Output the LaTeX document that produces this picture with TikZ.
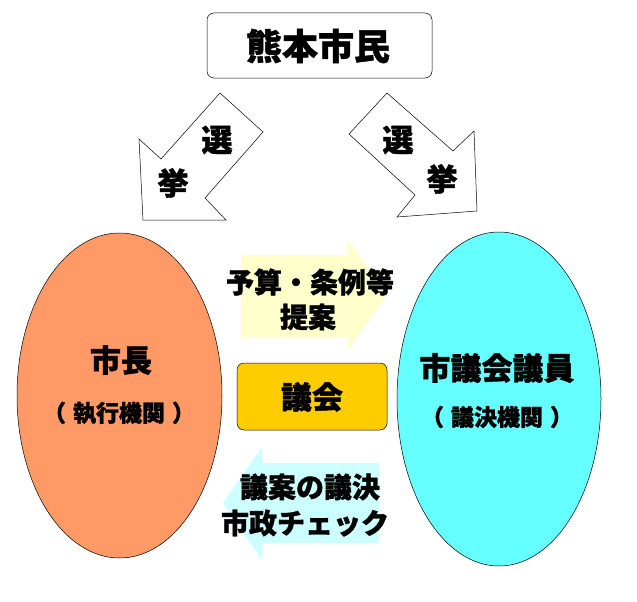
\documentclass[tikz,border=0pt]{standalone}
\usepackage{fontspec}
\newfontfamily\jp{Noto Sans CJK JP}[BoldFeatures={FakeBold=1.2}]
\definecolor{mayorc}{HTML}{FF9966}
\definecolor{councilc}{HTML}{66FFFF}
\definecolor{gikaic}{HTML}{FFCC00}
\definecolor{yarrow}{HTML}{FFFFCC}
\definecolor{barrow}{HTML}{CCFFFF}
\usetikzlibrary{shapes.geometric}
\tikzset{
  selarrow/.style={draw=black, fill=white, line width=0.5pt, line join=miter},
  lbl/.style={font=\jp\bfseries\fontsize{28}{34}\selectfont, inner sep=0pt, text=black},
  ovallbl/.style={font=\jp\bfseries\fontsize{31}{36}\selectfont, inner sep=0pt, text=black},
  biglbl/.style={font=\jp\bfseries\fontsize{36}{40}\selectfont, inner sep=0pt, text=black},
  sellbl/.style={font=\jp\bfseries\fontsize{31}{36}\selectfont, inner sep=0pt, text=black},
  sublbl/.style={font=\jp\bfseries\fontsize{23}{26}\selectfont, inner sep=0pt, text=black},
  oval/.style={ellipse, draw=black, line width=0.5pt, inner sep=0pt},
  roundbox/.style={rectangle, rounded corners=7pt, draw=black, line width=0.5pt, inner sep=0pt}
}
\begin{document}
\begin{tikzpicture}[x=1pt, y=-1pt]
\useasboundingbox (0,0) rectangle (637,602);
\fill[white] (0,0) rectangle (637,602);

% top box
\node[roundbox, fill=white, minimum width=225pt, minimum height=65pt] (citizens) at (319.5,45.5) {};
\node[biglbl] (citizenstxt) at (318,46) {熊本市民};

% selection arrows
\draw[selarrow] (220,93) -- (263,132) -- (205,198) -- (226,220) -- (143,220) -- (139,139) -- (161,159) -- cycle;
\draw[selarrow] (349,134) -- (387,93) -- (453,151) -- (474,131) -- (477,211) -- (397,217) -- (415,195) -- cycle;
\node[sellbl] (lsen) at (217,140) {選};
\node[sellbl] (lkyo) at (173,183) {挙};
\node[sellbl] (rsen) at (398,140) {選};
\node[sellbl] (rkyo) at (442,179) {挙};

% ellipses
\node[oval, fill=mayorc, minimum width=205pt, minimum height=325pt] (mayor) at (119.5,395.5) {};
\node[oval, fill=councilc, minimum width=204pt, minimum height=334pt] (council) at (499,399) {};
\node[ovallbl] (mayortxt) at (121,360) {市長};
\node[sublbl] (mayorsub) at (119,413) {（\hspace{7pt}執行機関\hspace{7pt}）};
\node[ovallbl] (counciltxt) at (497,368) {市議会議員};
\node[sublbl] (councilsub) at (497,417) {（\hspace{7pt}議決機関\hspace{7pt}）};

% block arrows
\fill[yarrow] (241,255) -- (348,255) -- (348,240) -- (387,295) -- (348,350) -- (348,337) -- (241,337) -- cycle;
\fill[barrow] (223,503) -- (262,447) -- (262,463) -- (379,463) -- (379,543) -- (262,543) -- (262,560) -- cycle;
\node[lbl] (prop1) at (310,282) {予算・条例等};
\node[lbl] (prop2) at (308,317) {提案};
\node[lbl] (chk1) at (310,487) {議案の議決};
\node[lbl] (chk2) at (305,523) {市政チェック};

% gikai box
\node[roundbox, fill=gikaic, minimum width=150pt, minimum height=67pt] (gikai) at (312,396.5) {};
\node[ovallbl] (gikaitxt) at (312,397) {議会};
\end{tikzpicture}
\end{document}
